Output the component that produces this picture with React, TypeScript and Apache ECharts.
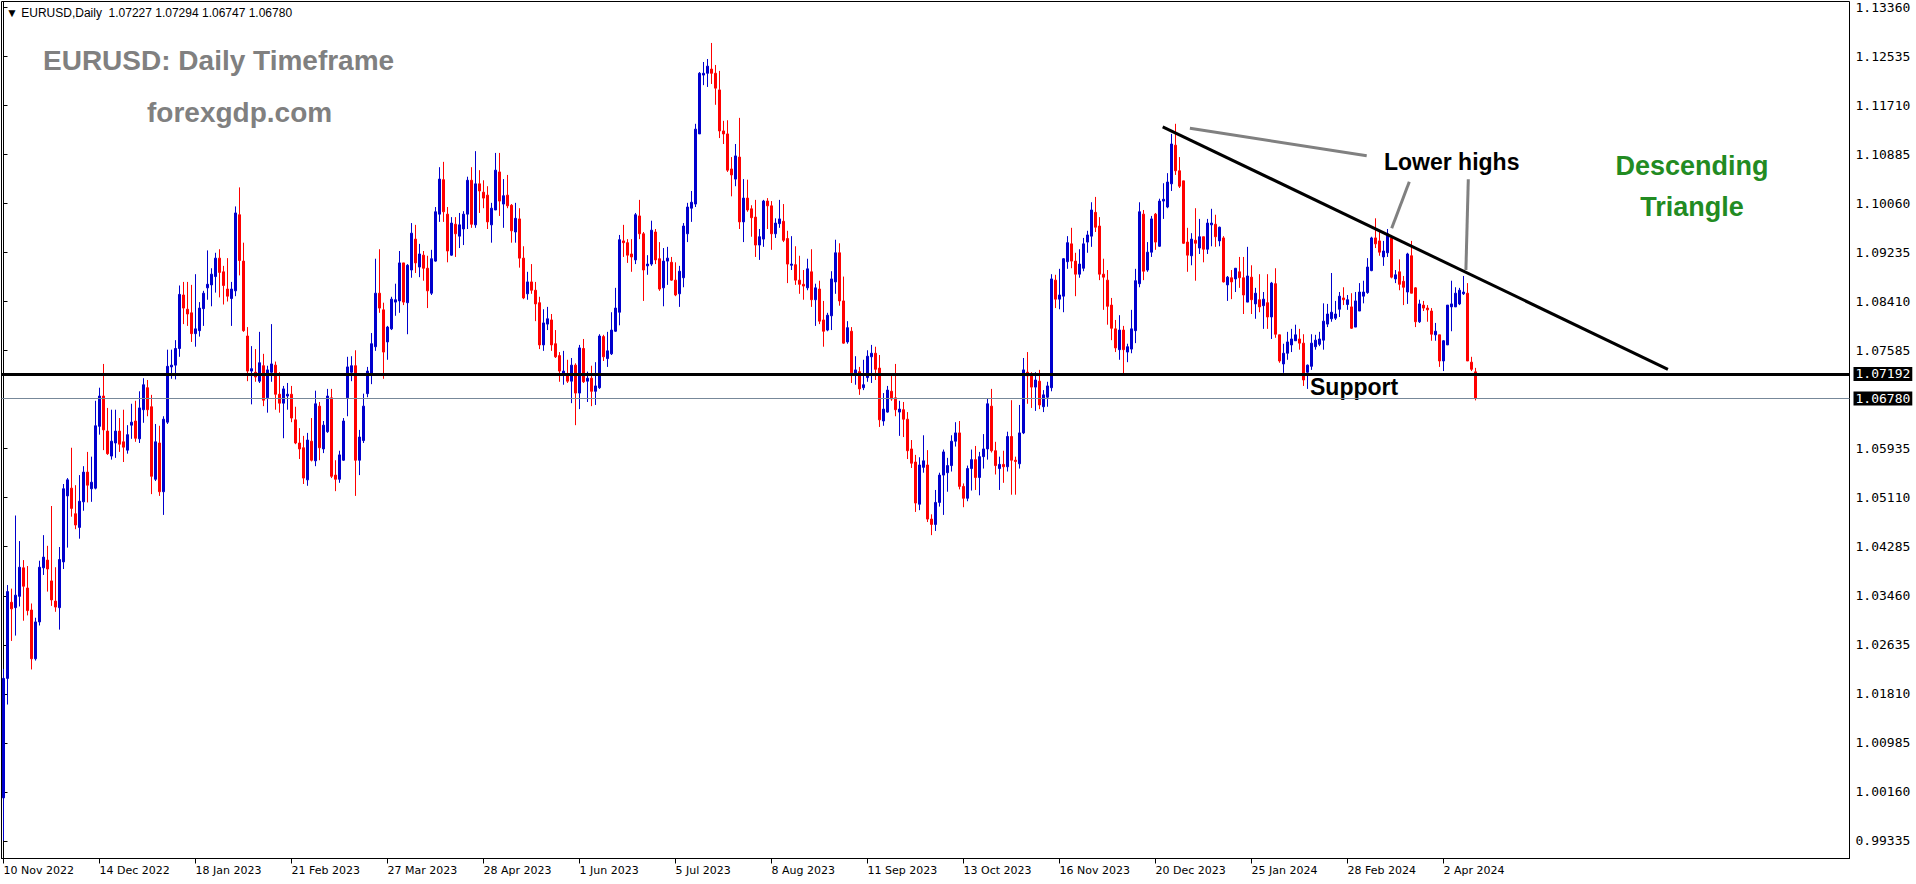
import React, { useEffect, useRef } from 'react';
import * as echarts from 'echarts';

// ---------- data ----------
const symbolName = 'EURUSD,Daily';
const xTickLabels = [
  '10 Nov 2022', '14 Dec 2022', '18 Jan 2023', '21 Feb 2023', '27 Mar 2023', '28 Apr 2023',
  '1 Jun 2023', '5 Jul 2023', '8 Aug 2023', '11 Sep 2023', '13 Oct 2023', '16 Nov 2023',
  '20 Dec 2023', '25 Jan 2024', '28 Feb 2024', '2 Apr 2024',
];
const barsPerLabel = 24;
const emptyBarsRight = 93;
const yTickValues = [
  0.99335, 1.0016, 1.00985, 1.0181, 1.02635, 1.0346, 1.04285, 1.0511, 1.05935,
  1.07585, 1.0841, 1.09235, 1.1006, 1.10885, 1.1171, 1.12535, 1.1336,
];
const supportLevel = 1.07192;
const lastPrice = 1.0678;

// [open, high, low, close]
const ohlc: number[][] = [
  [1.0006,1.0223,0.9934,1.0207],[1.0207,1.0364,1.0163,1.0353],[1.0335,1.0358,1.0270,1.0324],[1.0326,1.0481,1.0279,1.0347],
  [1.0345,1.0438,1.0328,1.0394],[1.0393,1.0406,1.0304,1.0362],[1.0359,1.0396,1.0313,1.0321],[1.0322,1.0333,1.0222,1.0240],
  [1.0240,1.0309,1.0237,1.0302],[1.0302,1.0405,1.0296,1.0394],[1.0393,1.0448,1.0381,1.0411],[1.0406,1.0430,1.0353,1.0391],
  [1.0371,1.0497,1.0329,1.0339],[1.0337,1.0394,1.0319,1.0327],[1.0326,1.0428,1.0289,1.0407],[1.0403,1.0534,1.0391,1.0526],
  [1.0514,1.0544,1.0427,1.0541],[1.0527,1.0595,1.0479,1.0493],[1.0484,1.0532,1.0458,1.0465],[1.0461,1.0549,1.0442,1.0505],
  [1.0504,1.0564,1.0489,1.0554],[1.0554,1.0588,1.0503,1.0532],[1.0526,1.0580,1.0504,1.0537],[1.0527,1.0674,1.0525,1.0632],
  [1.0631,1.0696,1.0617,1.0682],[1.0682,1.0736,1.0591,1.0625],[1.0623,1.0662,1.0583,1.0585],[1.0581,1.0659,1.0575,1.0606],
  [1.0603,1.0659,1.0578,1.0623],[1.0623,1.0645,1.0588,1.0601],[1.0605,1.0659,1.0571,1.0596],[1.0591,1.0633,1.0585,1.0617],
  [1.0633,1.0669,1.0610,1.0638],[1.0640,1.0674,1.0605,1.0611],[1.0610,1.0690,1.0603,1.0662],[1.0659,1.0712,1.0637,1.0701],
  [1.0696,1.0709,1.0648,1.0659],[1.0664,1.0684,1.0517,1.0547],[1.0542,1.0635,1.0539,1.0605],[1.0603,1.0632,1.0514,1.0521],
  [1.0521,1.0648,1.0482,1.0643],[1.0638,1.0760,1.0635,1.0732],[1.0731,1.0760,1.0711,1.0734],[1.0734,1.0776,1.0710,1.0762],
  [1.0762,1.0868,1.0748,1.0853],[1.0852,1.0874,1.0803,1.0830],[1.0828,1.0874,1.0800,1.0820],[1.0822,1.0869,1.0773,1.0787],
  [1.0787,1.0887,1.0765,1.0795],[1.0792,1.0840,1.0782,1.0830],[1.0829,1.0859,1.0800,1.0855],[1.0864,1.0927,1.0844,1.0870],
  [1.0869,1.0897,1.0833,1.0887],[1.0883,1.0923,1.0856,1.0914],[1.0914,1.0929,1.0848,1.0890],[1.0891,1.0901,1.0836,1.0868],
  [1.0862,1.0914,1.0841,1.0850],[1.0846,1.0874,1.0800,1.0862],[1.0859,1.1001,1.0850,1.0990],[1.0987,1.1033,1.0885,1.0910],
  [1.0909,1.0940,1.0790,1.0792],[1.0783,1.0798,1.0707,1.0724],[1.0724,1.0766,1.0668,1.0728],[1.0722,1.0761,1.0706,1.0714],
  [1.0707,1.0790,1.0704,1.0738],[1.0733,1.0753,1.0665,1.0675],[1.0679,1.0733,1.0654,1.0726],[1.0722,1.0803,1.0706,1.0736],
  [1.0734,1.0740,1.0659,1.0685],[1.0685,1.0722,1.0654,1.0670],[1.0670,1.0699,1.0611,1.0694],[1.0682,1.0704,1.0659,1.0685],
  [1.0685,1.0699,1.0638,1.0645],[1.0642,1.0664,1.0601,1.0603],[1.0603,1.0628,1.0576,1.0593],[1.0595,1.0615,1.0534,1.0544],
  [1.0541,1.0620,1.0531,1.0608],[1.0606,1.0645,1.0572,1.0574],[1.0573,1.0691,1.0564,1.0669],[1.0665,1.0672,1.0574,1.0595],
  [1.0593,1.0640,1.0586,1.0633],[1.0622,1.0694,1.0620,1.0682],[1.0679,1.0694,1.0544,1.0547],[1.0549,1.0574,1.0522,1.0542],
  [1.0542,1.0590,1.0536,1.0583],[1.0574,1.0645,1.0573,1.0640],[1.0679,1.0748,1.0648,1.0731],[1.0722,1.0749,1.0707,1.0733],
  [1.0733,1.0759,1.0514,1.0574],[1.0574,1.0625,1.0549,1.0613],[1.0607,1.0686,1.0603,1.0665],[1.0686,1.0731,1.0680,1.0724],
  [1.0719,1.0788,1.0702,1.0770],[1.0765,1.0913,1.0758,1.0855],[1.0855,1.0929,1.0822,1.0830],[1.0827,1.0839,1.0711,1.0756],
  [1.0773,1.0800,1.0743,1.0798],[1.0795,1.0849,1.0793,1.0845],[1.0840,1.0871,1.0817,1.0844],[1.0842,1.0926,1.0822,1.0906],
  [1.0906,1.0906,1.0835,1.0840],[1.0839,1.0904,1.0786,1.0902],[1.0894,1.0973,1.0881,1.0956],[1.0946,1.0970,1.0889,1.0906],
  [1.0899,1.0938,1.0882,1.0921],[1.0919,1.0926,1.0876,1.0897],[1.0897,1.0918,1.0830,1.0859],[1.0855,1.0928,1.0852,1.0913],
  [1.0909,1.1000,1.0908,1.0992],[1.0988,1.1067,1.0975,1.1047],[1.1046,1.1076,1.0975,1.0992],[1.0988,1.1000,1.0907,1.0926],
  [1.0919,1.0983,1.0918,1.0973],[1.0971,1.0983,1.0916,1.0955],[1.0951,1.0990,1.0931,1.0970],[1.0963,1.0993,1.0936,1.0988],
  [1.0988,1.1051,1.0963,1.1045],[1.1045,1.1067,1.0965,1.0971],[1.0970,1.1094,1.0965,1.1039],[1.1039,1.1062,1.0990,1.1027],
  [1.1025,1.1045,1.0998,1.1015],[1.1020,1.1035,1.0963,1.0975],[1.0970,1.1007,1.0940,1.0998],[1.0995,1.1091,1.0995,1.1062],
  [1.1059,1.1091,1.0985,1.1010],[1.1005,1.1047,1.0965,1.1019],[1.1020,1.1054,1.0998,1.1002],[1.1003,1.1005,1.0940,1.0960],
  [1.0958,1.1007,1.0940,1.0981],[1.0980,1.0998,1.0898,1.0914],[1.0914,1.0934,1.0845,1.0847],[1.0854,1.0891,1.0844,1.0874],
  [1.0874,1.0904,1.0854,1.0860],[1.0860,1.0874,1.0808,1.0837],[1.0839,1.0849,1.0761,1.0768],[1.0768,1.0828,1.0758,1.0805],
  [1.0803,1.0832,1.0793,1.0812],[1.0810,1.0820,1.0758,1.0768],[1.0770,1.0793,1.0746,1.0748],[1.0750,1.0756,1.0706,1.0724],
  [1.0717,1.0758,1.0701,1.0724],[1.0717,1.0743,1.0704,1.0707],[1.0707,1.0746,1.0670,1.0734],[1.0734,1.0737,1.0633,1.0687],
  [1.0687,1.0768,1.0660,1.0763],[1.0762,1.0778,1.0704,1.0706],[1.0707,1.0723,1.0672,1.0712],[1.0712,1.0733,1.0665,1.0690],
  [1.0690,1.0739,1.0667,1.0699],[1.0696,1.0786,1.0694,1.0783],[1.0782,1.0785,1.0741,1.0748],[1.0745,1.0790,1.0731,1.0758],
  [1.0753,1.0823,1.0751,1.0793],[1.0791,1.0864,1.0790,1.0830],[1.0823,1.0953,1.0801,1.0945],[1.0943,1.0970,1.0916,1.0940],
  [1.0940,1.0946,1.0906,1.0919],[1.0921,1.0946,1.0891,1.0916],[1.0911,1.0990,1.0904,1.0987],[1.0985,1.1012,1.0946,1.0955],
  [1.0955,1.0958,1.0842,1.0894],[1.0901,1.0919,1.0886,1.0904],[1.0904,1.0977,1.0901,1.0961],[1.0958,1.0963,1.0904,1.0911],
  [1.0913,1.0941,1.0859,1.0862],[1.0864,1.0931,1.0833,1.0909],[1.0909,1.0933,1.0869,1.0914],[1.0907,1.0916,1.0876,1.0877],
  [1.0877,1.0907,1.0850,1.0852],[1.0854,1.0901,1.0832,1.0892],[1.0881,1.0973,1.0865,1.0968],[1.0955,1.1007,1.0941,1.1000],
  [1.0998,1.1027,1.0975,1.1008],[1.1005,1.1140,1.1000,1.1131],[1.1123,1.1227,1.1123,1.1225],[1.1222,1.1244,1.1205,1.1225],
  [1.1225,1.1249,1.1202,1.1237],[1.1232,1.1276,1.1207,1.1225],[1.1225,1.1239,1.1172,1.1200],[1.1197,1.1229,1.1116,1.1128],
  [1.1128,1.1145,1.1106,1.1123],[1.1123,1.1146,1.1059,1.1062],[1.1064,1.1084,1.1018,1.1054],[1.1047,1.1106,1.1035,1.1086],
  [1.1084,1.1150,1.0963,1.0975],[1.0975,1.1047,1.0941,1.1015],[1.1015,1.1046,1.0992,1.0995],[1.0997,1.1003,1.0950,1.0982],
  [1.0983,1.1012,1.0916,1.0936],[1.0936,1.0963,1.0911,1.0950],[1.0946,1.1012,1.0933,1.1010],[1.1010,1.1015,1.0963,1.1002],
  [1.1002,1.1010,1.0928,1.0955],[1.0955,1.0981,1.0948,1.0973],[1.0972,1.1012,1.0965,1.0980],[1.0976,1.1005,1.0941,1.0944],
  [1.0947,1.0960,1.0872,1.0904],[1.0902,1.0951,1.0894,1.0904],[1.0903,1.0934,1.0869,1.0877],[1.0877,1.0918,1.0854,1.0870],
  [1.0870,1.0894,1.0844,1.0867],[1.0864,1.0913,1.0860,1.0896],[1.0891,1.0929,1.0832,1.0844],[1.0844,1.0871,1.0800,1.0864],
  [1.0862,1.0876,1.0803,1.0808],[1.0810,1.0842,1.0765,1.0791],[1.0793,1.0822,1.0791,1.0818],[1.0817,1.0892,1.0793,1.0879],
  [1.0874,1.0945,1.0854,1.0923],[1.0923,1.0939,1.0834,1.0842],[1.0842,1.0883,1.0770,1.0771],[1.0773,1.0808,1.0770,1.0797],
  [1.0791,1.0798,1.0704,1.0721],[1.0719,1.0749,1.0701,1.0726],[1.0723,1.0731,1.0684,1.0694],[1.0696,1.0743,1.0692,1.0701],
  [1.0713,1.0759,1.0706,1.0749],[1.0748,1.0768,1.0704,1.0754],[1.0754,1.0765,1.0709,1.0727],[1.0729,1.0751,1.0630,1.0642],
  [1.0640,1.0687,1.0632,1.0660],[1.0655,1.0699,1.0654,1.0692],[1.0690,1.0716,1.0674,1.0677],[1.0679,1.0736,1.0648,1.0659],
  [1.0655,1.0674,1.0615,1.0660],[1.0659,1.0672,1.0613,1.0643],[1.0643,1.0655,1.0576,1.0590],[1.0593,1.0608,1.0561,1.0569],
  [1.0571,1.0583,1.0487,1.0502],[1.0500,1.0579,1.0490,1.0566],[1.0562,1.0616,1.0553,1.0573],[1.0566,1.0591,1.0470,1.0475],
  [1.0475,1.0483,1.0448,1.0466],[1.0466,1.0524,1.0455,1.0503],[1.0503,1.0553,1.0496,1.0549],[1.0549,1.0592,1.0482,1.0588],
  [1.0553,1.0578,1.0521,1.0565],[1.0565,1.0616,1.0555,1.0606],[1.0606,1.0638,1.0597,1.0620],[1.0620,1.0640,1.0525,1.0530],
  [1.0530,1.0535,1.0495,1.0510],[1.0510,1.0565,1.0505,1.0560],[1.0560,1.0592,1.0523,1.0575],[1.0575,1.0598,1.0524,1.0545],
  [1.0545,1.0588,1.0515,1.0580],[1.0580,1.0618,1.0560,1.0593],[1.0593,1.0677,1.0575,1.0669],[1.0665,1.0694,1.0587,1.0590],
  [1.0590,1.0605,1.0550,1.0565],[1.0560,1.0580,1.0524,1.0567],[1.0567,1.0590,1.0536,1.0563],[1.0563,1.0622,1.0555,1.0614],
  [1.0614,1.0675,1.0516,1.0574],[1.0574,1.0580,1.0516,1.0572],[1.0568,1.0667,1.0560,1.0620],[1.0620,1.0746,1.0618,1.0726],
  [1.0722,1.0756,1.0669,1.0716],[1.0717,1.0722,1.0662,1.0697],[1.0697,1.0722,1.0657,1.0709],[1.0707,1.0726,1.0660,1.0667],
  [1.0664,1.0692,1.0655,1.0684],[1.0680,1.0706,1.0664,1.0699],[1.0696,1.0887,1.0690,1.0879],[1.0877,1.0886,1.0830,1.0845],
  [1.0845,1.0896,1.0828,1.0852],[1.0850,1.0914,1.0823,1.0913],[1.0908,1.0951,1.0896,1.0940],[1.0938,1.0965,1.0897,1.0909],
  [1.0909,1.0923,1.0850,1.0887],[1.0887,1.0929,1.0881,1.0904],[1.0897,1.0948,1.0892,1.0938],[1.0941,1.0960,1.0923,1.0953],
  [1.0951,1.1008,1.0933,1.0995],[1.0991,1.1017,1.0958,1.0966],[1.0968,1.0983,1.0877,1.0887],[1.0887,1.0913,1.0827,1.0882],
  [1.0877,1.0894,1.0802,1.0833],[1.0835,1.0847,1.0776,1.0796],[1.0795,1.0810,1.0756,1.0763],[1.0760,1.0818,1.0743,1.0793],
  [1.0793,1.0800,1.0720,1.0760],[1.0756,1.0770,1.0739,1.0765],[1.0761,1.0827,1.0754,1.0795],[1.0792,1.0896,1.0771,1.0876],
  [1.0871,1.1008,1.0865,1.0992],[1.0988,1.0995,1.0877,1.0892],[1.0894,1.0941,1.0891,1.0924],[1.0924,1.0985,1.0916,1.0980],
  [1.0988,1.0990,1.0928,1.0941],[1.0934,1.1014,1.0933,1.1010],[1.1010,1.1040,1.0980,1.1013],[1.1000,1.1057,1.0998,1.1042],
  [1.1039,1.1123,1.1027,1.1106],[1.1104,1.1140,1.1054,1.1061],[1.1061,1.1084,1.1032,1.1035],[1.1044,1.1044,1.0938,1.0939],
  [1.0941,1.0965,1.0891,1.0919],[1.0918,1.0956,1.0902,1.0946],[1.0944,1.0998,1.0876,1.0939],[1.0931,1.0980,1.0921,1.0950],
  [1.0950,1.0950,1.0907,1.0929],[1.0929,1.0980,1.0921,1.0973],[1.0970,1.0997,1.0934,1.0973],[1.0971,1.0987,1.0933,1.0950],
  [1.0943,1.0967,1.0934,1.0966],[1.0948,1.0951,1.0873,1.0874],[1.0869,1.0884,1.0842,1.0882],[1.0881,1.0894,1.0845,1.0874],
  [1.0879,1.0897,1.0857,1.0897],[1.0891,1.0916,1.0864,1.0881],[1.0881,1.0916,1.0820,1.0852],[1.0840,1.0933,1.0840,1.0884],
  [1.0882,1.0902,1.0820,1.0844],[1.0837,1.0864,1.0812,1.0855],[1.0844,1.0887,1.0823,1.0832],[1.0834,1.0857,1.0795,1.0845],
  [1.0839,1.0887,1.0795,1.0815],[1.0815,1.0874,1.0778,1.0872],[1.0871,1.0897,1.0780,1.0786],[1.0785,1.0785,1.0738,1.0741],
  [1.0736,1.0770,1.0721,1.0754],[1.0754,1.0790,1.0743,1.0773],[1.0768,1.0795,1.0756,1.0778],[1.0775,1.0802,1.0775,1.0785],
  [1.0778,1.0795,1.0760,1.0771],[1.0771,1.0786,1.0699,1.0709],[1.0722,1.0735,1.0694,1.0734],[1.0732,1.0786,1.0726,1.0771],
  [1.0765,1.0785,1.0760,1.0776],[1.0769,1.0790,1.0766,1.0778],[1.0776,1.0838,1.0760,1.0808],[1.0803,1.0837,1.0798,1.0820],
  [1.0812,1.0889,1.0807,1.0823],[1.0813,1.0842,1.0810,1.0820],[1.0828,1.0857,1.0815,1.0850],[1.0847,1.0865,1.0835,1.0844],
  [1.0836,1.0852,1.0827,1.0844],[1.0832,1.0855,1.0795,1.0796],[1.0798,1.0857,1.0798,1.0842],[1.0825,1.0872,1.0825,1.0857],
  [1.0850,1.0876,1.0838,1.0857],[1.0856,1.0914,1.0854,1.0899],[1.0893,1.0950,1.0892,1.0948],[1.0948,1.0981,1.0931,1.0938],
  [1.0943,1.0958,1.0918,1.0924],[1.0916,1.0943,1.0901,1.0926],[1.0923,1.0963,1.0916,1.0955],[1.0948,1.0953,1.0880,1.0882],
  [1.0879,1.0894,1.0872,1.0886],[1.0891,1.0912,1.0860,1.0870],[1.0875,1.0884,1.0835,1.0865],[1.0857,1.0923,1.0837,1.0921],
  [1.0918,1.0943,1.0855,1.0855],[1.0864,1.0865,1.0798,1.0807],[1.0807,1.0844,1.0805,1.0837],[1.0835,1.0842,1.0825,1.0830],
  [1.0830,1.0835,1.0807,1.0827],[1.0825,1.0830,1.0775,1.0786],[1.0785,1.0805,1.0775,1.0791],[1.0785,1.0785,1.0731,1.0741],
  [1.0741,1.0776,1.0724,1.0775],[1.0768,1.0835,1.0768,1.0835],[1.0832,1.0876,1.0791,1.0837],[1.0832,1.0865,1.0832,1.0855],
  [1.0837,1.0864,1.0835,1.0860],[1.0854,1.0884,1.0852,1.0857],[1.0855,1.0872,1.0741,1.0741],[1.0739,1.0748,1.0724,1.0727],
  [1.07227,1.07294,1.06747,1.0678],
];

// annotation lines in [bar index, price]
const trendLine = [[289.8, 1.1135], [416.1, 1.0727]];
const pointerLines = [
  [[296.6, 1.11324], [340.8, 1.10863]],
  [[351.45, 1.10426], [347.05, 1.09642]],
  [[366.2, 1.10466], [365.6, 1.0894]],
];

// ---------- chart ----------
const BULL = '#0000CD';
const BEAR = '#FF0000';
const totalBars = ohlc.length + emptyBarsRight;
const categories = Array.from({ length: totalBars }, (_, i) => String(i));
const isLabelBar = (idx: number) => idx % barsPerLabel === 0 && idx / barsPerLabel < xTickLabels.length;

export default function App() {
  const ref = useRef<HTMLDivElement>(null);
  useEffect(() => {
    if (!ref.current) return;
    const chart = echarts.init(ref.current, undefined, { renderer: 'svg' });
    const last = ohlc[ohlc.length - 1];
    const header = `\u25BC ${symbolName}  ${last.map((v) => v.toFixed(5)).join(' ')}`;
    const boxLabel = (v: number) => ({
      show: true,
      position: 'end' as const,
      distance: 4,
      formatter: () => v.toFixed(5),
      color: '#fff',
      backgroundColor: '#000',
      fontFamily: 'DejaVu Sans Mono',
      fontSize: 13,
      lineHeight: 13,
      padding: [1, 2, 0, 2],
    });
    const option: any = {
      animation: false,
      backgroundColor: '#fff',
      grid: {
        left: 1.5, top: 1.5, width: 1848, height: 857,
        show: true, borderColor: '#000', borderWidth: 1, backgroundColor: '#fff',
      },
      xAxis: [
        {
          type: 'category',
          data: categories,
          boundaryGap: true,
          axisLine: { show: true, lineStyle: { color: '#000', width: 1 } },
          axisTick: { show: true, alignWithLabel: true, length: 5, interval: (idx: number) => isLabelBar(idx), lineStyle: { color: '#000' } },
          axisLabel: {
            show: true,
            interval: (idx: number) => isLabelBar(idx),
            formatter: (_v: string, idx: number) => xTickLabels[idx / barsPerLabel] ?? '',
            align: 'left',
            margin: 6,
            color: '#000',
            fontFamily: 'DejaVu Sans',
            fontSize: 11,
          },
          splitLine: { show: false },
        },
        { type: 'value', min: -0.5, max: totalBars - 0.5, show: false },
      ],
      yAxis: {
        type: 'value',
        position: 'right',
        min: 0.990397,
        max: 1.134576,
        axisLine: { show: true, lineStyle: { color: '#000' } },
        axisTick: { show: true, length: 4, customValues: yTickValues, lineStyle: { color: '#000' } },
        axisLabel: {
          customValues: yTickValues,
          formatter: (v: number) => v.toFixed(5),
          color: '#000',
          fontFamily: 'DejaVu Sans Mono',
          fontSize: 13,
          margin: 6,
        },
        splitLine: { show: false },
      },
      series: [
        {
          type: 'candlestick',
          xAxisIndex: 0,
          yAxisIndex: 0,
          barWidth: 2,
          data: ohlc.map(([o, h, l, c]) => [o, c, l, h]),
          itemStyle: { color: BULL, color0: BEAR, borderColor: BULL, borderColor0: BEAR, borderColorDoji: BULL, borderWidth: 1 },
        },
        {
          type: 'line', xAxisIndex: 1, yAxisIndex: 0, data: trendLine, symbol: 'none', silent: true,
          lineStyle: { color: '#000', width: 3 },
          markLine: {
            silent: true,
            precision: 5,
            symbol: ['none', 'none'],
            data: [
              { yAxis: lastPrice, lineStyle: { color: '#778899', width: 1, type: 'solid' }, label: boxLabel(lastPrice) },
              { yAxis: supportLevel, lineStyle: { color: '#000', width: 3, type: 'solid' }, label: boxLabel(supportLevel) },
            ],
          },
        },
        ...pointerLines.map((seg) => ({
          type: 'line', xAxisIndex: 1, yAxisIndex: 0, data: seg, symbol: 'none', silent: true,
          lineStyle: { color: '#808080', width: 3 },
        })),
      ],
      graphic: [
        { type: 'text', x: 6, y: 13, style: { text: header, fill: '#000', font: '12px "Liberation Sans"', align: 'left', verticalAlign: 'middle' } },
        { type: 'text', x: 43, y: 60, style: { text: 'EURUSD: Daily Timeframe', fill: '#808080', font: 'bold 28px "Liberation Sans"', align: 'left', verticalAlign: 'middle' } },
        { type: 'text', x: 147, y: 112, style: { text: 'forexgdp.com', fill: '#808080', font: 'bold 28px "Liberation Sans"', align: 'left', verticalAlign: 'middle' } },
        { type: 'text', x: 1384, y: 162, style: { text: 'Lower highs', fill: '#000', font: 'bold 23px "Liberation Sans"', align: 'left', verticalAlign: 'middle' } },
        { type: 'text', x: 1310, y: 387, style: { text: 'Support', fill: '#000', font: 'bold 23px "Liberation Sans"', align: 'left', verticalAlign: 'middle' } },
        { type: 'text', x: 1692, y: 166, style: { text: 'Descending', fill: '#228B22', font: 'bold 27px "Liberation Sans"', align: 'center', verticalAlign: 'middle' } },
        { type: 'text', x: 1692, y: 207, style: { text: 'Triangle', fill: '#228B22', font: 'bold 27px "Liberation Sans"', align: 'center', verticalAlign: 'middle' } },
      ],
    };
    chart.setOption(option);
    return () => chart.dispose();
  }, []);
  return <div ref={ref} style={{ position: 'fixed', left: 0, top: 0, width: 1916, height: 884, background: '#fff' }} />;
}
